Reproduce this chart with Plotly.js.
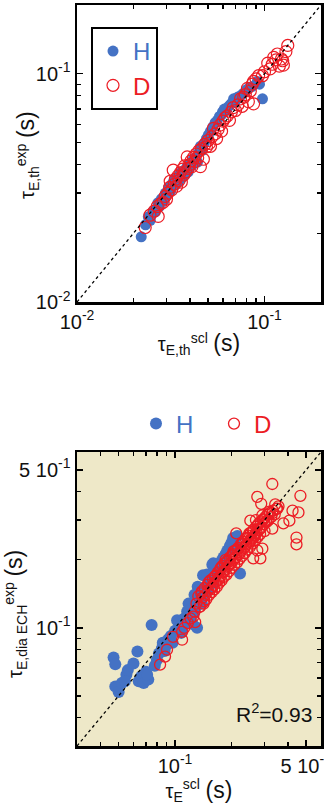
<!DOCTYPE html>
<html>
<head>
<meta charset="utf-8">
<script src="https://cdn.plot.ly/plotly-3.0.1.min.js"></script>
<style>
  html, body { margin: 0; padding: 0; background: #fff; }
  #chart { width: 324px; height: 807px; }
</style>
</head>
<body>
<div id="chart"></div>
<script>
// ---- Thermal confinement time: measured vs scaling (upper panel) ----
const thermalHx = [0.0220,0.0232,0.0240,0.0246,0.0255,0.0262,0.0270,0.0275,0.0282,0.0290,0.0296,0.0300,0.0308,0.0315,0.0322,0.0330,0.0336,0.0342,0.0350,0.0356,0.0362,0.0370,0.0378,0.0385,0.0392,0.0400,0.0410,0.0418,0.0428,0.0439,0.0448,0.0455,0.0465,0.0478,0.0490,0.0502,0.0515,0.0530,0.0545,0.0560,0.0575,0.0590,0.0597,0.0610,0.0625,0.0640,0.0655,0.0670,0.0684,0.0700,0.0720,0.0745,0.0770,0.0800,0.0830,0.0860,0.0915,0.0940,0.0975];
const thermalHy = [0.0193,0.0218,0.0236,0.0228,0.0250,0.0248,0.0272,0.0262,0.0283,0.0278,0.0300,0.0292,0.0318,0.0305,0.0330,0.0345,0.0326,0.0352,0.0338,0.0368,0.0350,0.0376,0.0362,0.0390,0.0372,0.0405,0.0396,0.0425,0.0418,0.0410,0.0455,0.0481,0.0462,0.0498,0.0520,0.0540,0.0560,0.0585,0.0610,0.0625,0.0650,0.0660,0.0681,0.0700,0.0690,0.0715,0.0730,0.0745,0.0776,0.0760,0.0790,0.0800,0.0820,0.0850,0.0870,0.0880,0.0925,0.0900,0.0776];

const thermalDx = [0.0231,0.0245,0.0258,0.0268,0.0271,0.0280,0.0288,0.0295,0.0300,0.0305,0.0312,0.0314,0.0320,0.0326,0.0330,0.0335,0.0340,0.0345,0.0350,0.0355,0.0360,0.0365,0.0370,0.0375,0.0380,0.0387,0.0392,0.0398,0.0405,0.0410,0.0418,0.0425,0.0432,0.0440,0.0447,0.0455,0.0462,0.0472,0.0480,0.0490,0.0500,0.0508,0.0515,0.0525,0.0534,0.0545,0.0555,0.0565,0.0578,0.0590,0.0600,0.0615,0.0634,0.0650,0.0665,0.0680,0.0700,0.0720,0.0744,0.0760,0.0775,0.0790,0.0810,0.0820,0.0840,0.0860,0.0874,0.0874,0.0900,0.0930,0.0975,0.1000,0.1040,0.1070,0.1100,0.1120,0.1150,0.1170,0.1200,0.1230,0.1250,0.1260,0.1300,0.1330];
const thermalDy = [0.0212,0.0240,0.0250,0.0262,0.0237,0.0270,0.0273,0.0290,0.0282,0.0300,0.0318,0.0338,0.0310,0.0378,0.0328,0.0345,0.0322,0.0356,0.0340,0.0368,0.0335,0.0382,0.0360,0.0395,0.0372,0.0432,0.0385,0.0400,0.0415,0.0392,0.0430,0.0412,0.0445,0.0428,0.0460,0.0392,0.0470,0.0422,0.0490,0.0478,0.0510,0.0495,0.0481,0.0530,0.0576,0.0545,0.0520,0.0570,0.0595,0.0560,0.0620,0.0640,0.0654,0.0625,0.0680,0.0710,0.0690,0.0730,0.0776,0.0720,0.0790,0.0810,0.0862,0.0755,0.0840,0.0900,0.0925,0.0738,0.0950,0.0980,0.0980,0.1020,0.1112,0.1050,0.1100,0.1180,0.1150,0.1220,0.1080,0.1160,0.1140,0.1090,0.1250,0.1330];

// ---- Diamagnetic confinement time with ECH (lower panel) ----
const diaHx = [0.047,0.048,0.048,0.050,0.052,0.055,0.054,0.056,0.060,0.063,0.064,0.066,0.068,0.070,0.072,0.071,0.075,0.078,0.080,0.082,0.085,0.086,0.088,0.090,0.092,0.095,0.097,0.100,0.1025,0.105,0.108,0.109,0.112,0.114,0.116,0.118,0.121,0.124,0.126,0.128,0.131,0.133,0.136,0.139,0.141,0.143,0.146,0.150,0.153,0.156,0.160,0.163,0.166,0.170,0.173,0.177,0.181,0.186,0.190,0.196,0.200,0.204,0.210,0.222,0.215,0.132,0.127,0.148,0.118,0.158,0.160];
const diaHy = [0.074,0.069,0.055,0.052,0.057,0.062,0.058,0.065,0.0695,0.0785,0.058,0.061,0.057,0.064,0.059,0.062,0.103,0.068,0.072,0.077,0.081,0.086,0.079,0.084,0.089,0.092,0.086,0.097,0.108,0.100,0.095,0.100,0.110,0.104,0.118,0.112,0.108,0.104,0.116,0.122,0.100,0.127,0.133,0.128,0.171,0.142,0.152,0.146,0.160,0.166,0.158,0.175,0.182,0.188,0.178,0.198,0.205,0.212,0.220,0.230,0.238,0.250,0.232,0.174,0.255,0.152,0.140,0.172,0.128,0.190,0.193];

const diaDx = [0.0832,0.0884,0.0906,0.0975,0.109,0.109,0.117,0.112,0.121,0.125,0.127,0.128,
  0.130,0.133,0.135,0.136,0.139,0.140,0.142,0.144,0.145,0.147,0.149,0.150,0.152,0.154,0.155,0.157,0.159,0.160,0.162,0.164,0.165,0.167,0.169,0.170,0.172,0.174,0.175,0.177,0.179,0.180,0.182,0.184,0.186,0.188,0.190,0.192,0.194,0.196,0.198,0.200,0.203,0.205,0.207,0.210,0.212,0.214,0.217,0.219,0.221,0.224,0.226,0.228,0.231,0.233,0.235,0.238,0.240,0.243,0.246,0.248,0.251,0.254,0.256,0.259,0.262,0.264,0.267,0.270,0.272,0.275,0.278,0.281,0.284,0.287,0.290,0.294,0.298,0.302,0.306,0.310,0.315,0.320,0.326,0.332,0.340,0.348,0.356,0.300,0.292,0.270,0.186,0.205,0.228,0.249,0.262,
  0.138,0.143,0.151,0.158,0.163,0.171,0.176,0.183,0.189,0.195,0.201,0.208,0.215,0.222,0.229,0.236,0.244,0.252,0.260,0.268,0.276,0.285,0.296,0.308,0.318,0.330,0.342,
  0.2745,0.288,0.351,0.423,0.466,0.455,0.378,0.407,0.444,0.444,0.2745,0.292,0.261,0.285,0.330,0.252,0.212,0.330];
const diaDy = [0.0687,0.0746,0.0800,0.0913,0.0886,0.0960,0.105,0.100,0.110,0.112,0.118,0.106,
  0.128,0.138,0.124,0.124,0.145,0.136,0.128,0.150,0.140,0.134,0.155,0.146,0.140,0.162,0.150,0.144,0.165,0.155,0.148,0.170,0.160,0.152,0.176,0.165,0.158,0.182,0.170,0.162,0.188,0.176,0.168,0.193,0.182,0.172,0.198,0.188,0.178,0.205,0.193,0.184,0.212,0.200,0.190,0.220,0.206,0.195,0.226,0.212,0.202,0.234,0.220,0.208,0.240,0.226,0.214,0.248,0.234,0.222,0.256,0.240,0.228,0.264,0.248,0.236,0.272,0.256,0.244,0.280,0.264,0.252,0.288,0.272,0.260,0.296,0.280,0.300,0.288,0.308,0.296,0.316,0.300,0.322,0.310,0.330,0.318,0.336,0.345,0.268,0.315,0.300,0.200,0.218,0.236,0.262,0.250,
  0.142,0.131,0.159,0.151,0.168,0.163,0.185,0.178,0.196,0.190,0.209,0.203,0.222,0.216,0.236,0.229,0.250,0.243,0.266,0.258,0.284,0.276,0.303,0.294,0.327,0.322,0.352,
  0.380,0.354,0.337,0.330,0.384,0.324,0.290,0.298,0.251,0.234,0.220,0.224,0.203,0.203,0.275,0.298,0.262,0.433];

// Axis ticks: decade labels and the 2..9 minor ticks
const thermalTickVals = [0.01, 0.1];
const thermalTickText = ['10<sup>-2</sup>', '10<sup>-1</sup>'];
const diaTickVals = [0.1, 0.5];
const diaTickText = ['10<sup>-1</sup>', '5 10<sup>-1</sup>'];

const BLUE = '#4472C4';
const RED = '#EC1C24';
const BEIGE = '#EEE8C8';
const FONT = '"Liberation Sans", Arial, Helvetica, sans-serif';

function minorTicks(lo, hi) {
  const out = [];
  for (let e = -3; e <= 1; e++) {
    for (let m = 1; m <= 9; m++) {
      const v = m * Math.pow(10, e);
      if (v >= lo * 0.999 && v <= hi * 1.001) out.push(v);
    }
  }
  return out;
}

const W = 324, H = 807;
const dom = (a, b) => [a / W, b / W];
const vdom = (top, bottom) => [1 - bottom / H, 1 - top / H];

function logAxis(lo, hi, tickvals, ticktext, title, domain, anchor) {
  const ax = {
    type: 'log',
    range: [Math.log10(lo), Math.log10(hi)],
    domain: domain,
    anchor: anchor,
    showline: true, linecolor: '#000', linewidth: 2.5,
    mirror: 'ticks',
    ticks: 'inside', ticklen: 6, tickwidth: 1.5, tickcolor: '#000',
    tickmode: 'array', tickvals: tickvals, ticktext: ticktext,
    ticklabeloverflow: 'allow',
    tickfont: { family: FONT, size: 20, color: '#111' },
    minor: { ticks: 'inside', ticklen: 4, tickwidth: 1.3, tickcolor: '#000',
             tickmode: 'array', tickvals: minorTicks(lo, hi), showgrid: false },
    showgrid: false, zeroline: false
  };
  if (title) ax.title = { text: title, font: { family: FONT, size: 20, color: '#111' }, standoff: 6 };
  return ax;
}

const sName = (c, t) => '<span style="color:' + c + '">' + t + '</span>';
const S = '<span style="font-size:23px">(s)</span>';

const traces = [
  { x: thermalHx, y: thermalHy, xaxis: 'x', yaxis: 'y', type: 'scatter', mode: 'markers',
    name: sName(BLUE, 'H'), legend: 'legend',
    marker: { symbol: 'circle', size: 11, color: BLUE } },
  { x: thermalDx, y: thermalDy, xaxis: 'x', yaxis: 'y', type: 'scatter', mode: 'markers',
    name: sName(RED, 'D'), legend: 'legend',
    marker: { symbol: 'circle-open', size: 12, color: RED, line: { width: 1.2 } } },
  { x: [0.01, 0.2], y: [0.01, 0.2], xaxis: 'x', yaxis: 'y', type: 'scatter', mode: 'lines',
    showlegend: false, line: { color: '#000', width: 1.3, dash: '3px,3px' } },

  { x: diaHx, y: diaHy, xaxis: 'x2', yaxis: 'y2', type: 'scatter', mode: 'markers',
    name: sName(BLUE, 'H'), legend: 'legend2',
    marker: { symbol: 'circle', size: 12, color: BLUE } },
  { x: diaDx, y: diaDy, xaxis: 'x2', yaxis: 'y2', type: 'scatter', mode: 'markers',
    name: sName(RED, 'D'), legend: 'legend2',
    marker: { symbol: 'circle-open', size: 11, color: RED, line: { width: 1.3 } } },
  { x: [0.03, 0.6], y: [0.03, 0.6], xaxis: 'x2', yaxis: 'y2', type: 'scatter', mode: 'lines',
    showlegend: false, line: { color: '#000', width: 1.3, dash: '3px,3px' } }
];

const annFont = { family: FONT, size: 20, color: '#111' };

const layout = {
  width: W, height: H,
  margin: { l: 0, r: 0, t: 0, b: 0 },
  paper_bgcolor: '#fff', plot_bgcolor: 'rgba(0,0,0,0)',
  font: { family: FONT, color: '#111' },
  xaxis: logAxis(0.01, 0.2, thermalTickVals, thermalTickText,
    'τ<sub>E,th</sub><sup>scl</sup> ' + S, dom(77, 321), 'y'),
  yaxis: logAxis(0.01, 0.2, thermalTickVals, thermalTickText, null, vdom(5, 302), 'x'),
  xaxis2: logAxis(0.03, 0.6, diaTickVals, diaTickText,
    'τ<sub>E</sub><sup>scl</sup> ' + S, dom(77, 321), 'y2'),
  yaxis2: logAxis(0.03, 0.6, diaTickVals, diaTickText, null, vdom(452, 746), 'x2'),
  legend: {
    x: 91 / W, y: 1 - 27 / H, xanchor: 'left', yanchor: 'top',
    bgcolor: '#fff', bordercolor: '#000', borderwidth: 2,
    font: { family: FONT, size: 24 }, itemwidth: 30, tracegroupgap: 0
  },
  legend2: {
    orientation: 'h', x: 214 / W, y: 1 - 424 / H, xanchor: 'center', yanchor: 'middle',
    bgcolor: 'rgba(0,0,0,0)', borderwidth: 0, entrywidth: 33,
    font: { family: FONT, size: 24 }, itemwidth: 30
  },
  shapes: [
    { type: 'rect', xref: 'x2 domain', yref: 'y2 domain', x0: 0, x1: 1, y0: 0, y1: 1,
      fillcolor: BEIGE, line: { width: 0 }, layer: 'below' }
  ],
  annotations: [
    { text: 'τ<sub>E,th</sub><sup>exp</sup> ' + S, textangle: -90,
      xref: 'paper', yref: 'paper', x: 27 / W, y: 1 - 155 / H,
      xanchor: 'center', yanchor: 'middle', showarrow: false, font: annFont },
    { text: 'τ<sub>E,dia ECH</sub><sup>exp</sup> ' + S, textangle: -90,
      xref: 'paper', yref: 'paper', x: 15 / W, y: 1 - 614 / H,
      xanchor: 'center', yanchor: 'middle', showarrow: false, font: annFont },
    { text: 'R<sup>2</sup>=0.93', xref: 'paper', yref: 'paper',
      x: 314 / W, y: 1 - 728 / H, xanchor: 'right', yanchor: 'bottom',
      showarrow: false, font: { family: FONT, size: 21, color: '#111' } }
  ]
};

Plotly.newPlot('chart', traces, layout, { staticPlot: true, displayModeBar: false });
</script>
</body>
</html>
